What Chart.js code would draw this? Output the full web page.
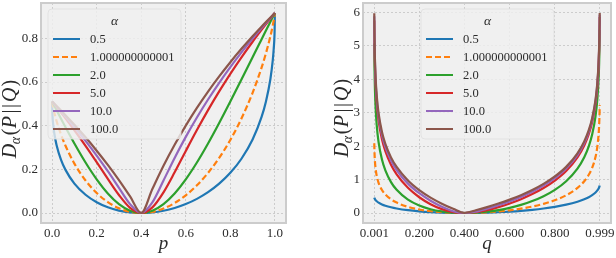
<!DOCTYPE html>
<html>
<head>
<meta charset="utf-8">
<script src="https://cdn.jsdelivr.net/npm/chart.js@4.4.1/dist/chart.umd.min.js"></script>
<style>
  html, body { margin: 0; padding: 0; background: #ffffff; }
  body { width: 616px; height: 258px; position: relative; overflow: hidden; }
  canvas { position: absolute; top: 0; }
  #leftChart { left: 0; }
  #rightChart { left: 306px; }
</style>
</head>
<body>
<canvas id="leftChart" width="300" height="258"></canvas>
<canvas id="rightChart" width="310" height="258"></canvas>
<script>
// legend entries (alpha values) and colours
const alphaLabels = ["0.5", "1.000000000001", "2.0", "5.0", "10.0", "100.0"];
const seriesColors = ["#1f77b4", "#ff7f0e", "#2ca02c", "#d62728", "#9467bd", "#8c564b"];

// left panel: D vs p
const pValues = [0, 0.001, 0.005, 0.01, 0.02, 0.04, 0.06, 0.1, 0.15, 0.2, 0.25, 0.3, 0.35, 0.4,
  0.45, 0.5, 0.55, 0.6, 0.65, 0.7, 0.75, 0.8, 0.85, 0.9, 0.94, 0.96, 0.98, 0.99, 0.995, 0.999, 1];
const leftAlpha05 = [0.5108, 0.4607, 0.4033, 0.3632, 0.3104, 0.2433, 0.1976, 0.1347, 0.0835, 0.0493, 0.0261, 0.0111, 0.0027, 0,
  0.0026, 0.0102, 0.0228, 0.0408, 0.0647, 0.0954, 0.1344, 0.1840, 0.2486, 0.3369, 0.4390, 0.5108, 0.6140, 0.6942, 0.7548, 0.8412, 0.9163];
const leftAlpha1 = [0.5108, 0.5033, 0.4814, 0.4589, 0.4209, 0.3591, 0.3082, 0.2263, 0.1489, 0.0915, 0.0499, 0.0216, 0.0053, 0,
  0.0051, 0.0204, 0.0457, 0.0811, 0.1269, 0.1838, 0.2526, 0.3348, 0.4328, 0.5507, 0.6650, 0.7321, 0.8101, 0.8562, 0.8828, 0.9080, 0.9163];
const leftAlpha2 = [0.5108, 0.5088, 0.5008, 0.4909, 0.4710, 0.4318, 0.3932, 0.3185, 0.2314, 0.1542, 0.0896, 0.0408, 0.0104, 0,
  0.0104, 0.0408, 0.0896, 0.1542, 0.2314, 0.3185, 0.4124, 0.5108, 0.6118, 0.7138, 0.7953, 0.8358, 0.8762, 0.8963, 0.9063, 0.9143, 0.9163];
const leftAlpha5 = [0.5108, 0.5096, 0.5046, 0.4983, 0.4856, 0.4598, 0.4335, 0.3791, 0.3079, 0.2331, 0.1564, 0.0826, 0.0239, 0,
  0.0259, 0.0949, 0.1865, 0.2842, 0.3800, 0.4712, 0.5569, 0.6374, 0.7132, 0.7846, 0.8389, 0.8653, 0.8910, 0.9037, 0.9100, 0.9150, 0.9163];
const leftAlpha10 = [0.5108, 0.5097, 0.5053, 0.4997, 0.4884, 0.4655, 0.4421, 0.3938, 0.3302, 0.2629, 0.1913, 0.1154, 0.0406, 0,
  0.0487, 0.1490, 0.2524, 0.3488, 0.4376, 0.5200, 0.5966, 0.6684, 0.7357, 0.7992, 0.8475, 0.8709, 0.8938, 0.9051, 0.9107, 0.9152, 0.9163];
const leftAlpha100 = [0.5108, 0.5098, 0.5058, 0.5007, 0.4904, 0.4696, 0.4483, 0.4044, 0.3467, 0.2854, 0.2202, 0.1505, 0.0757, 0,
  0.1097, 0.2161, 0.3124, 0.4003, 0.4812, 0.5560, 0.6257, 0.6909, 0.7521, 0.8099, 0.8538, 0.8751, 0.8959, 0.9061, 0.9112, 0.9153, 0.9163];

// right panel: D vs q
const qValues = [0.001, 0.002, 0.004, 0.007, 0.012, 0.02, 0.035, 0.05, 0.075, 0.1, 0.15, 0.2, 0.25, 0.3, 0.35, 0.4,
  0.45, 0.5, 0.55, 0.6, 0.65, 0.7, 0.75, 0.8, 0.85, 0.9, 0.93, 0.95, 0.965, 0.98, 0.988, 0.993, 0.996, 0.998, 0.9985];
const rightAlpha05 = [0.4607, 0.4410, 0.4139, 0.3852, 0.3506, 0.3104, 0.2574, 0.2187, 0.1707, 0.1347, 0.0835, 0.0493, 0.0261, 0.0111, 0.0027, 0,
  0.0026, 0.0102, 0.0228, 0.0408, 0.0647, 0.0954, 0.1344, 0.1840, 0.2486, 0.3369, 0.4095, 0.4723, 0.5326, 0.6140, 0.6751, 0.7276, 0.7708, 0.8115, 0.8250];
const rightAlpha1 = [2.0907, 1.8140, 1.5380, 1.3159, 1.1034, 0.9039, 0.6893, 0.5561, 0.4099, 0.3112, 0.1833, 0.1047, 0.0541, 0.0226, 0.0054, 0,
  0.0051, 0.0201, 0.0452, 0.0811, 0.1292, 0.1920, 0.2738, 0.3819, 0.5303, 0.7507, 0.9516, 1.1449, 1.3527, 1.6823, 1.9855, 2.3069, 2.6415, 3.0566, 3.2290];
const rightAlpha2 = [5.0774, 4.3865, 3.6979, 3.1450, 2.6172, 2.1243, 1.5983, 1.2751, 0.9253, 0.6931, 0.3989, 0.2231, 0.1133, 0.0465, 0.0109, 0,
  0.0101, 0.0392, 0.0870, 0.1542, 0.2427, 0.3567, 0.5028, 0.6931, 0.9510, 1.3291, 1.6705, 1.9972, 2.3467, 2.8994, 3.4066, 3.9433, 4.5016, 5.1938, 5.4813];
const rightAlpha5 = [5.7624, 5.0692, 4.3761, 3.8165, 3.2775, 2.7667, 2.2070, 1.8504, 1.4450, 1.1575, 0.7536, 0.4714, 0.2633, 0.1156, 0.0279, 0,
  0.0237, 0.0855, 0.1743, 0.2842, 0.4140, 0.5665, 0.7482, 0.9710, 1.2586, 1.6641, 2.0207, 2.3572, 2.7139, 3.2735, 3.7843, 4.3233, 4.8829, 5.5761, 5.8638];
const rightAlpha10 = [5.8897, 5.1965, 4.5034, 3.9437, 3.4047, 2.8939, 2.3343, 1.9776, 1.5722, 1.2845, 0.8790, 0.5914, 0.3685, 0.1890, 0.0538, 0,
  0.0414, 0.1275, 0.2312, 0.3488, 0.4822, 0.6364, 0.8187, 1.0419, 1.3295, 1.7350, 2.0917, 2.4281, 2.7848, 3.3444, 3.8553, 4.3943, 4.9539, 5.6470, 5.9347];
const rightAlpha100 = [5.9822, 5.2890, 4.5959, 4.0363, 3.4973, 2.9865, 2.4269, 2.0702, 1.6647, 1.3770, 0.9716, 0.6839, 0.4607, 0.2784, 0.1243, 0,
  0.0819, 0.1772, 0.2825, 0.4003, 0.5338, 0.6880, 0.8703, 1.0935, 1.3811, 1.7866, 2.1433, 2.4797, 2.8364, 3.3961, 3.9069, 4.4459, 5.0055, 5.6986, 5.9863];

// ticks
const pTicks = [0, 0.2, 0.4, 0.6, 0.8, 1.0];
const pTickLabels = ["0.0", "0.2", "0.4", "0.6", "0.8", "1.0"];
const leftYTicks = [0, 0.2, 0.4, 0.6, 0.8];
const leftYTickLabels = ["0.0", "0.2", "0.4", "0.6", "0.8"];
const qTicks = [0.001, 0.2, 0.4, 0.6, 0.8, 0.999];
const qTickLabels = ["0.001", "0.200", "0.400", "0.600", "0.800", "0.999"];
const rightYTicks = [0, 1, 2, 3, 4, 5, 6];
const rightYTickLabels = ["0", "1", "2", "3", "4", "5", "6"];

const serif = '"Liberation Serif", "DejaVu Serif", serif';
const textColor = "#2b2b2b";
const plotBg = "#f0f0f0";

function roundRect(ctx, x, y, w, h, r) {
  ctx.beginPath();
  ctx.moveTo(x + r, y);
  ctx.lineTo(x + w - r, y);
  ctx.quadraticCurveTo(x + w, y, x + w, y + r);
  ctx.lineTo(x + w, y + h - r);
  ctx.quadraticCurveTo(x + w, y + h, x + w - r, y + h);
  ctx.lineTo(x + r, y + h);
  ctx.quadraticCurveTo(x, y + h, x, y + h - r);
  ctx.lineTo(x, y + r);
  ctx.quadraticCurveTo(x, y, x + r, y);
  ctx.closePath();
}

const framePlugin = {
  id: "frame",
  beforeDraw(chart) {
    const { ctx, chartArea: a } = chart;
    ctx.save();
    ctx.fillStyle = plotBg;
    ctx.fillRect(a.left, a.top, a.right - a.left, a.bottom - a.top);
    ctx.restore();
  },
  afterDatasetsDraw(chart) {
    const { ctx, chartArea: a } = chart;
    ctx.save();
    ctx.strokeStyle = "#cccccc";
    ctx.lineWidth = 2;
    ctx.strokeRect(a.left, a.top, a.right - a.left, a.bottom - a.top);
    ctx.restore();
  },
};

function legendPlugin(box) {
  return {
    id: "mplLegend",
    afterDraw(chart) {
      const ctx = chart.ctx;
      ctx.save();
      roundRect(ctx, box.x, box.y, box.w, box.h, 4);
      ctx.fillStyle = "rgba(240,240,240,0.8)";
      ctx.fill();
      ctx.strokeStyle = "rgba(222,222,222,0.8)";
      ctx.lineWidth = 1;
      ctx.stroke();

      ctx.fillStyle = textColor;
      ctx.textBaseline = "middle";
      ctx.textAlign = "center";
      ctx.font = "italic 13.5px " + serif;
      ctx.fillText("α", box.x + box.w / 2, box.y + 12);

      chart.data.datasets.forEach((ds, i) => {
        const y = box.y + 30 + i * 18;
        ctx.beginPath();
        ctx.setLineDash(ds.borderDash || []);
        ctx.strokeStyle = ds.borderColor;
        ctx.lineWidth = 2;
        ctx.moveTo(box.x + 5, y);
        ctx.lineTo(box.x + 32, y);
        ctx.stroke();
        ctx.setLineDash([]);
        ctx.textAlign = "left";
        ctx.font = "12.5px " + serif;
        ctx.fillText(ds.label, box.x + 42, y + 1);
      });
      ctx.restore();
    },
  };
}

// y label D_alpha(P||Q), drawn rotated with a subscript
function yLabelPlugin(baseX, centerY) {
  return {
    id: "yLabel",
    afterDraw(chart) {
      const ctx = chart.ctx;
      const big = "italic 20px " + serif;
      const bigUp = "20px " + serif;
      const small = "italic 14px " + serif;
      // gap = space added after each part
      const parts = [
        { t: "D", f: big, dy: 0, gap: -0.5 },
        { t: "α", f: small, dy: 4, gap: 1.5 },
        { t: "(", f: bigUp, dy: 0, gap: 0.5 },
        { t: "P", f: big, dy: 0, gap: 2.5 },
        { t: "|", f: bigUp, dy: 0, gap: 1.5 },
        { t: "|", f: bigUp, dy: 0, gap: 2 },
        { t: "Q", f: big, dy: 0, gap: 1 },
        { t: ")", f: bigUp, dy: 0, gap: 0 },
      ];
      ctx.save();
      let total = 0;
      parts.forEach((p) => {
        ctx.font = p.f;
        p.w = ctx.measureText(p.t).width;
        total += p.w + p.gap;
      });
      ctx.translate(baseX, centerY);
      ctx.rotate(-Math.PI / 2);
      ctx.fillStyle = textColor;
      ctx.textBaseline = "alphabetic";
      ctx.textAlign = "left";
      let x = -total / 2;
      parts.forEach((p) => {
        ctx.font = p.f;
        ctx.fillText(p.t, x, p.dy);
        x += p.w + p.gap;
      });
      ctx.restore();
    },
  };
}

function buildDatasets(xs, arrays) {
  return arrays.map((arr, i) => ({
    label: alphaLabels[i],
    data: xs.map((x, j) => ({ x: x, y: arr[j] })),
    borderColor: seriesColors[i],
    borderWidth: 2.2,
    borderDash: i === 1 ? [6, 3] : [],
    pointRadius: 0,
    fill: false,
    cubicInterpolationMode: "monotone",
    order: arrays.length - i,
  }));
}

function axis(min, max, ticks, labels, fixedSize, isX, title) {
  return {
    type: "linear",
    min: min,
    max: max,
    afterBuildTicks: (scale) => {
      scale.ticks = ticks.map((v) => ({ value: v }));
    },
    afterFit: (scale) => {
      if (isX) {
        scale.height = fixedSize;
      } else {
        scale.width = fixedSize;
      }
      scale.paddingLeft = 0;
      scale.paddingRight = 0;
      scale.paddingTop = 0;
      scale.paddingBottom = 0;
    },
    ticks: {
      autoSkip: false,
      maxRotation: 0,
      minRotation: 0,
      padding: 3,
      color: textColor,
      font: { family: serif, size: 13 },
      callback: (value, index) => labels[index],
    },
    grid: {
      color: "#cccccc",
      lineWidth: 1,
      drawTicks: false,
    },
    border: { display: false, dash: [2, 2] },
    title: title
      ? {
          display: true,
          text: title,
          color: textColor,
          font: { family: serif, size: 19, style: "italic" },
          padding: { top: 0, bottom: 3 },
        }
      : { display: false },
  };
}

function makeChart(id, xs, arrays, xAxis, yAxis, padRight, legendBox, yLabelPos) {
  return new Chart(document.getElementById(id), {
    type: "line",
    data: { datasets: buildDatasets(xs, arrays) },
    options: {
      responsive: false,
      animation: false,
      devicePixelRatio: 1,
      events: [],
      layout: { padding: { top: 3, right: padRight, bottom: 0, left: 0 } },
      plugins: { legend: { display: false }, tooltip: { enabled: false } },
      scales: { x: xAxis, y: yAxis },
    },
    plugins: [framePlugin, legendPlugin(legendBox), yLabelPlugin(yLabelPos.x, yLabelPos.y)],
  });
}

makeChart(
  "leftChart",
  pValues,
  [leftAlpha05, leftAlpha1, leftAlpha2, leftAlpha5, leftAlpha10, leftAlpha100],
  axis(-0.05, 1.05, pTicks, pTickLabels, 35, true, "p"),
  axis(-0.0458, 0.9621, leftYTicks, leftYTickLabels, 41, false, null),
  14,
  { x: 48, y: 9, w: 133, h: 130 },
  { x: 16, y: 119 }
);

makeChart(
  "rightChart",
  qValues,
  [rightAlpha05, rightAlpha1, rightAlpha2, rightAlpha5, rightAlpha10, rightAlpha100],
  axis(-0.0489, 1.0484, qTicks, qTickLabels, 35, true, "q"),
  axis(-0.2993, 6.2856, rightYTicks, rightYTickLabels, 57, false, null),
  5,
  { x: 115, y: 9, w: 133, h: 130 },
  { x: 42, y: 118 }
);
</script>
</body>
</html>
